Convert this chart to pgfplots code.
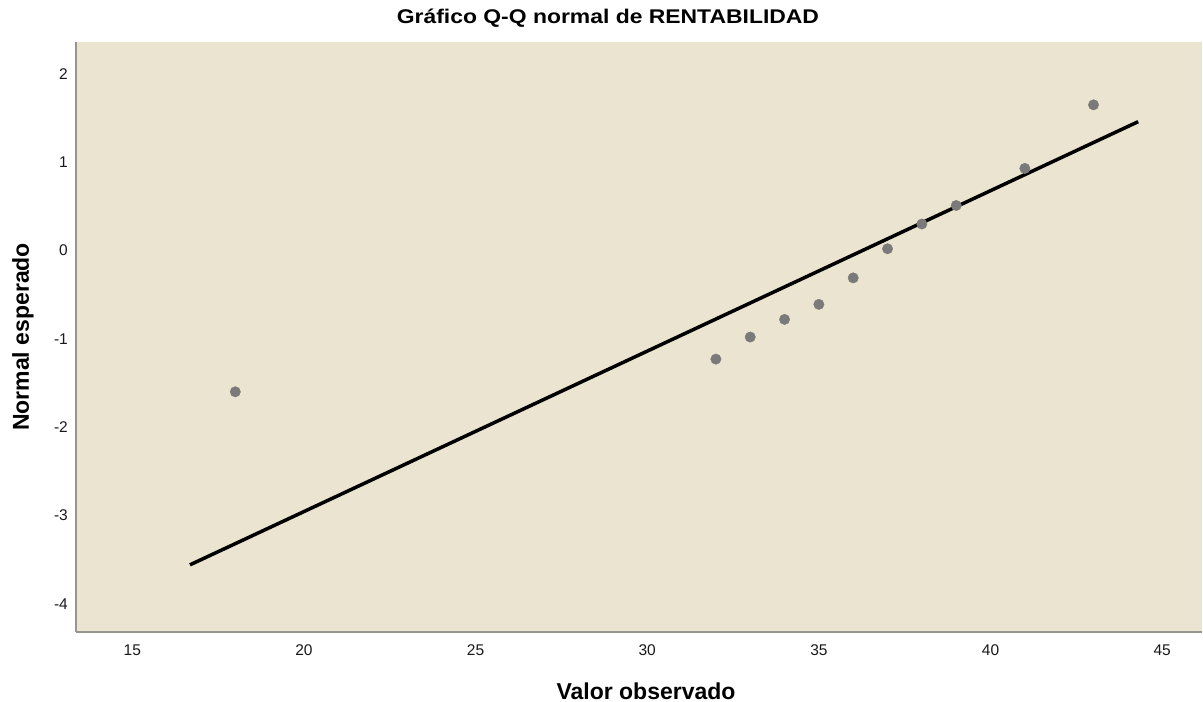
\documentclass[border=0pt]{standalone}
\usepackage{fontspec}
\setmainfont{Liberation Sans}
\usepackage{graphicx}
\usepackage{pgfplots}
\pgfplotsset{compat=1.18}
\definecolor{bgcol}{RGB}{234,228,208}
\definecolor{axcol}{RGB}{150,150,145}
\definecolor{ptcol}{RGB}{122,122,122}
\begin{document}
\begin{tikzpicture}
\useasboundingbox (0,0) rectangle (1203bp,702bp);
\begin{axis}[
  at={(76bp,69.7bp)}, anchor=south west,
  scale only axis, width=1126bp, height=590.6bp,
  xmin=13.36, xmax=46.16, ymin=-4.324, ymax=2.365,
  axis x line=bottom, axis y line=left,
  axis line style={-, draw=axcol, line width=1.6bp},
  axis background/.style={fill=bgcol},
  xtick={15,20,25,30,35,40,45},
  xticklabels={15,20,25,30,35,40,45},
  ytick={-4,-3,-2,-1,0,1,2},
  yticklabels={-4,-3,-2,-1,0,1,2},
  major tick length=0pt,
  tick label style={font=\fontsize{15.5bp}{18bp}\selectfont, text=black!90},
  xticklabel style={anchor=north, inner sep=0pt},
  yticklabel style={anchor=east, inner sep=0pt},
  x tick label style={yshift=-12.5bp},
  y tick label style={xshift=-8bp},
  xlabel={Valor observado},
  ylabel={Normal esperado},
  label style={font=\bfseries\fontsize{23bp}{26bp}\selectfont},
  xlabel style={at={(rel axis cs:0.5,0)}, anchor=center, yshift=-58.7bp, xshift=7bp, inner sep=0pt},
  ylabel style={at={(rel axis cs:0,0.5)}, anchor=center, yshift=53bp, inner sep=0pt},
  title={\scalebox{1.157}[1]{Gráfico Q-Q normal de RENTABILIDAD}},
  title style={font=\bfseries\fontsize{19.8bp}{24bp}\selectfont, at={(rel axis cs:0,1)}, anchor=base, xshift=531.9bp, yshift=12.7bp, inner sep=0pt},
  clip=false,
]
\addplot[black, line width=3.5bp] coordinates {(16.68,-3.56) (44.30,1.459)};
\addplot[only marks, mark=*, mark size=5.2bp, mark options={fill=ptcol, draw=ptcol}] coordinates {
(18,-1.60)
(32,-1.23)
(33,-0.98)
(34,-0.78)
(35,-0.61)
(36,-0.31)
(37,0.02)
(38,0.30)
(39,0.51)
(41,0.93)
(43,1.65)
};
\end{axis}
\end{tikzpicture}
\end{document}
